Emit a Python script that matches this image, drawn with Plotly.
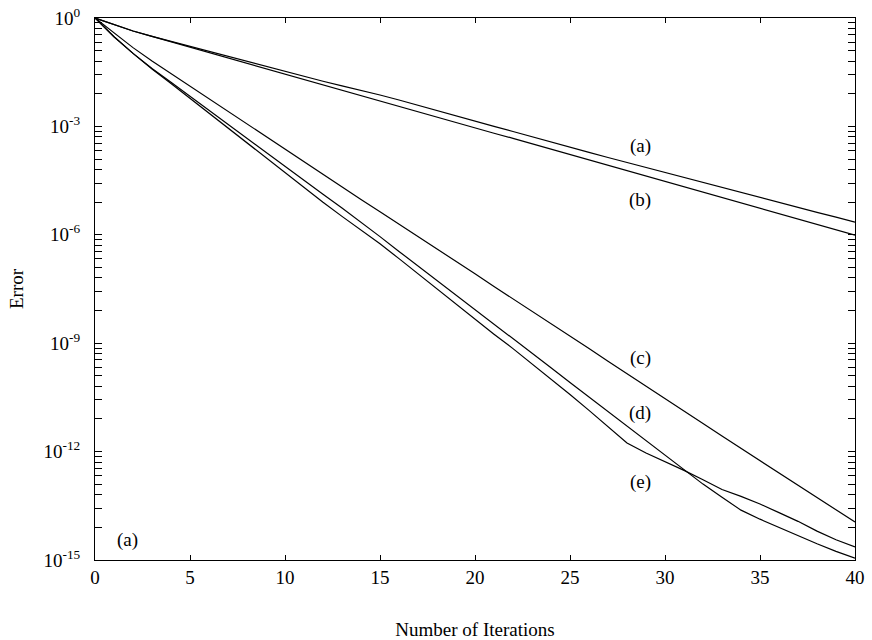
import numpy as np
import plotly.graph_objects as go

iterations = list(range(0, 41))

# log10 of the error
log_err_a = [0, -0.19, -0.36, -0.51, -0.65, -0.79, -0.93, -1.07, -1.21, -1.35, -1.49,
             -1.62, -1.75, -1.88, -2.00, -2.13, -2.27, -2.42, -2.56, -2.71, -2.85,
             -3.00, -3.14, -3.29, -3.43, -3.58, -3.72, -3.86, -4.00, -4.14, -4.27,
             -4.41, -4.55, -4.68, -4.82, -4.96, -5.10, -5.24, -5.38, -5.51, -5.65]
log_err_b = [0, -0.19, -0.36, -0.51, -0.66, -0.81, -0.95, -1.10, -1.25, -1.40, -1.55,
             -1.70, -1.85, -2.00, -2.15, -2.30, -2.45, -2.60, -2.75, -2.89, -3.04,
             -3.19, -3.33, -3.48, -3.63, -3.78, -3.93, -4.08, -4.23, -4.38, -4.53,
             -4.68, -4.83, -4.98, -5.13, -5.27, -5.42, -5.57, -5.71, -5.86, -6.01]
log_err_c = [0, -0.42, -0.82, -1.19, -1.54, -1.89, -2.24, -2.59, -2.94, -3.29, -3.64,
             -3.99, -4.34, -4.68, -5.02, -5.36, -5.70, -6.05, -6.39, -6.74, -7.08,
             -7.43, -7.77, -8.12, -8.46, -8.81, -9.15, -9.50, -9.84, -10.19, -10.53,
             -10.88, -11.22, -11.57, -11.91, -12.26, -12.60, -12.94, -13.28, -13.62, -13.95]
log_err_d = [0, -0.52, -0.98, -1.40, -1.78, -2.17, -2.56, -2.94, -3.33, -3.72, -4.10,
             -4.49, -4.88, -5.26, -5.65, -6.05, -6.46, -6.86, -7.26, -7.67, -8.07,
             -8.47, -8.88, -9.28, -9.68, -10.09, -10.49, -10.89, -11.29, -11.70, -12.10,
             -12.50, -12.90, -13.26, -13.62, -13.87, -14.10, -14.33, -14.55, -14.76, -14.95]
log_err_e = [0, -0.52, -0.98, -1.41, -1.81, -2.22, -2.63, -3.05, -3.46, -3.88, -4.29,
             -4.70, -5.10, -5.49, -5.87, -6.25, -6.66, -7.08, -7.49, -7.92, -8.33,
             -8.75, -9.15, -9.57, -9.98, -10.42, -10.86, -11.32, -11.76, -12.04, -12.27,
             -12.52, -12.78, -13.05, -13.24, -13.45, -13.69, -13.93, -14.20, -14.44, -14.64]

series = {"(a)": log_err_a, "(b)": log_err_b, "(c)": log_err_c,
          "(d)": log_err_d, "(e)": log_err_e}

# curve labels: (label, iteration, log10 error)
curve_labels = [("(a)", 28.7, -3.55), ("(b)", 28.7, -5.05), ("(c)", 28.7, -9.41),
                ("(d)", 28.7, -10.93), ("(e)", 28.7, -12.84)]
panel_label = ("(a)", 1.7, -14.45)

ytick_exps = [0, -3, -6, -9, -12, -15]
xtick_vals = [0, 5, 10, 15, 20, 25, 30, 35, 40]

FONT = "Liberation Serif, Times New Roman, serif"

fig = go.Figure()
for name, vals in series.items():
    fig.add_trace(go.Scatter(x=iterations, y=[10.0 ** v for v in vals], mode="lines",
                             line=dict(color="black", width=1.2), name=name,
                             showlegend=False))

for txt, xi, yl in curve_labels:
    fig.add_annotation(x=xi, y=yl, text=txt, showarrow=False,
                       font=dict(family=FONT, size=19, color="black"))
fig.add_annotation(x=panel_label[1], y=panel_label[2], text=panel_label[0],
                   showarrow=False, font=dict(family=FONT, size=19, color="black"))

minor_vals = [10 ** (lo + 3 * np.log10(k)) for lo in range(-15, 0, 3) for k in range(2, 10)]

fig.update_xaxes(range=[0, 40], tickmode="array", tickvals=xtick_vals,
                 ticktext=[str(v) for v in xtick_vals],
                 ticks="inside", ticklen=5, tickcolor="black", tickwidth=1,
                 showline=True, linecolor="black", linewidth=1, mirror="ticks",
                 showgrid=False, zeroline=False, automargin=False,
                 ticklabeloverflow="allow",
                 tickfont=dict(family=FONT, size=19, color="black"),
                 title=dict(text="Number of Iterations",
                            font=dict(family=FONT, size=19, color="black"),
                            standoff=36))
fig.update_yaxes(type="log", range=[-15, 0], tickmode="array",
                 tickvals=[10.0 ** e for e in ytick_exps],
                 ticktext=["10<sup>%d</sup>" % e for e in ytick_exps],
                 ticks="inside", ticklen=7, tickcolor="black", tickwidth=1,
                 minor=dict(tickmode="array", tickvals=minor_vals, ticks="inside",
                            ticklen=7, tickcolor="black", tickwidth=1, showgrid=False),
                 showline=True, linecolor="black", linewidth=1, mirror="ticks",
                 showgrid=False, zeroline=False, ticklabelstandoff=10, automargin=False,
                 ticklabeloverflow="allow",
                 tickfont=dict(family=FONT, size=19, color="black"),
                 title=dict(text="Error",
                            font=dict(family=FONT, size=19, color="black"),
                            standoff=14))

fig.update_layout(width=872, height=640, margin=dict(l=95, r=17, t=18, b=80),
                  paper_bgcolor="white", plot_bgcolor="white")

# remove the browser's default 8px body margin so the figure fills the window exactly
fig.write_html("out.html", config={"displayModeBar": False},
               post_script="document.body.style.margin='0';")
